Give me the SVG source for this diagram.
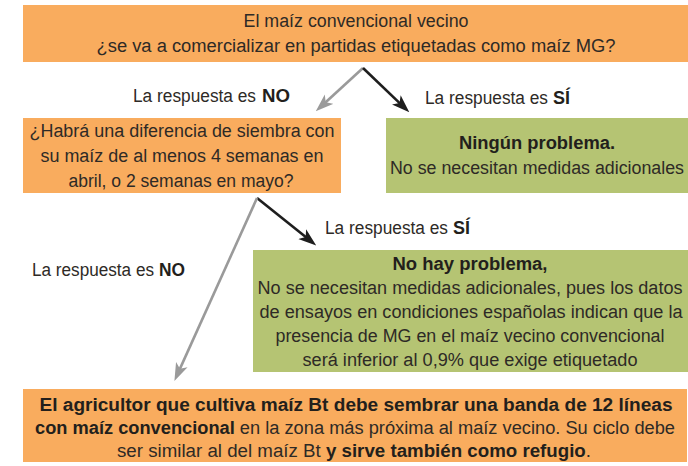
<svg xmlns="http://www.w3.org/2000/svg" width="688" height="466" viewBox="0 0 688 466">
<style>
.orange{fill:#F9AC5E}
.green{fill:#B5C473}
text{font-family:"Liberation Sans",Arial,sans-serif;font-size:18px;fill:#2e2a26;text-anchor:middle}
.b{font-weight:bold;fill:#231f1c}
.s{text-anchor:start}
.gray{stroke:#9a9a9a;stroke-width:2.6;fill:none}
.black{stroke:#1e1e1e;stroke-width:2.6;fill:none}
</style>
<defs>
<marker id="ag" viewBox="0 0 20 14" refX="10" refY="7" markerWidth="18" markerHeight="13" markerUnits="userSpaceOnUse" orient="auto">
<path d="M0,0 L20,7 L0,14 L5,7 Z" fill="#9a9a9a"/>
</marker>
<marker id="ab" viewBox="0 0 20 14" refX="10" refY="7" markerWidth="18" markerHeight="13" markerUnits="userSpaceOnUse" orient="auto">
<path d="M0,0 L20,7 L0,14 L5,7 Z" fill="#1e1e1e"/>
</marker>
</defs>
<rect width="688" height="466" fill="#ffffff"/>
<g id="q1">
<rect class="orange" x="23" y="5" width="665" height="57"/>
<text x="356" y="27" textLength="225" lengthAdjust="spacingAndGlyphs">El maíz convencional vecino</text>
<text x="356" y="52" textLength="519" lengthAdjust="spacingAndGlyphs">¿se va a comercializar en partidas etiquetadas como maíz MG?</text>
</g>
<g id="q2">
<rect class="orange" x="23" y="118" width="318" height="75"/>
<text x="182" y="137" textLength="305" lengthAdjust="spacingAndGlyphs">¿Habrá una diferencia de siembra con</text>
<text x="182" y="162" textLength="283" lengthAdjust="spacingAndGlyphs">su maíz de al menos 4 semanas en</text>
<text x="181" y="187" textLength="225" lengthAdjust="spacingAndGlyphs">abril, o 2 semanas en mayo?</text>
</g>
<g id="r1">
<rect class="green" x="386" y="118" width="302" height="75"/>
<text class="b" x="537" y="149" textLength="156" lengthAdjust="spacingAndGlyphs">Ningún problema.</text>
<text x="537" y="174" textLength="294" lengthAdjust="spacingAndGlyphs">No se necesitan medidas adicionales</text>
</g>
<g id="r2">
<rect class="green" x="253" y="250" width="435" height="122"/>
<text class="b" x="470" y="270" textLength="155" lengthAdjust="spacingAndGlyphs">No hay problema,</text>
<text x="470" y="294" textLength="425" lengthAdjust="spacingAndGlyphs">No se necesitan medidas adicionales, pues los datos</text>
<text x="471" y="318" textLength="423" lengthAdjust="spacingAndGlyphs">de ensayos en condiciones españolas indican que la</text>
<text x="470" y="342" textLength="389" lengthAdjust="spacingAndGlyphs">presencia de MG en el maíz vecino convencional</text>
<text x="470" y="366" textLength="335" lengthAdjust="spacingAndGlyphs">será inferior al 0,9% que exige etiquetado</text>
</g>
<g id="r3">
<rect class="orange" x="23" y="389" width="664" height="73"/>
<text class="b" x="356" y="411" textLength="633" lengthAdjust="spacingAndGlyphs">El agricultor que cultiva maíz Bt debe sembrar una banda de 12 líneas</text>
<text x="355" y="434" textLength="640" lengthAdjust="spacingAndGlyphs"><tspan class="b">con maíz convencional</tspan> en la zona más próxima al maíz vecino. Su ciclo debe</text>
<text x="354" y="457" textLength="474" lengthAdjust="spacingAndGlyphs">ser similar al del maíz Bt <tspan class="b">y sirve también como refugio</tspan>.</text>
</g>
<g id="connectors">
<line class="gray" x1="363" y1="68" x2="322.4" y2="105.2" marker-end="url(#ag)"/>
<line class="black" x1="363" y1="68" x2="402.8" y2="106.1" marker-end="url(#ab)"/>
<line class="black" x1="257" y1="198" x2="309.2" y2="239.8" marker-end="url(#ab)"/>
<line class="gray" x1="257" y1="198" x2="178.1" y2="372.9" marker-end="url(#ag)"/>
<text class="s" x="133" y="102" textLength="123" lengthAdjust="spacingAndGlyphs">La respuesta es</text>
<text class="s b" x="262" y="102" textLength="28" lengthAdjust="spacingAndGlyphs">NO</text>
<text class="s" x="425" y="104" textLength="123" lengthAdjust="spacingAndGlyphs">La respuesta es</text>
<text class="s b" x="553" y="104" textLength="17" lengthAdjust="spacingAndGlyphs">SÍ</text>
<text class="s" x="325" y="234" textLength="123" lengthAdjust="spacingAndGlyphs">La respuesta es</text>
<text class="s b" x="453" y="234" textLength="17" lengthAdjust="spacingAndGlyphs">SÍ</text>
<text class="s" x="32" y="276" textLength="122" lengthAdjust="spacingAndGlyphs">La respuesta es</text>
<text class="s b" x="159" y="276" textLength="26" lengthAdjust="spacingAndGlyphs">NO</text>
</g>
</svg>
